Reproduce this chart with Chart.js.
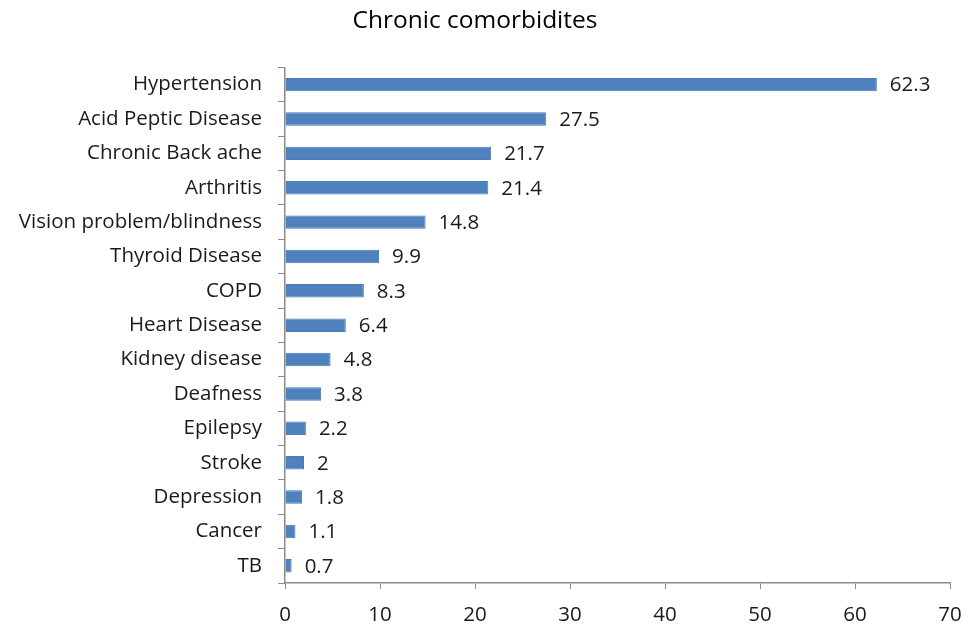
<!DOCTYPE html>
<html>
<head>
<meta charset="utf-8">
<script src="https://cdn.jsdelivr.net/npm/chart.js@4"></script>
<style>
  html, body { margin: 0; padding: 0; background: #fff; }
  #wrap { width: 978px; height: 628px; }
</style>
</head>
<body>
<div id="wrap"><canvas id="chart" width="978" height="628"></canvas></div>
<script>
const categories = [
  "Hypertension", "Acid Peptic Disease", "Chronic Back ache", "Arthritis",
  "Vision problem/blindness", "Thyroid Disease", "COPD", "Heart Disease",
  "Kidney disease", "Deafness", "Epilepsy", "Stroke", "Depression", "Cancer", "TB"
];
const values = [62.3, 27.5, 21.7, 21.4, 14.8, 9.9, 8.3, 6.4, 4.8, 3.8, 2.2, 2, 1.8, 1.1, 0.7];
const xTicks = [0, 10, 20, 30, 40, 50, 60, 70];

const FONT = "'Open Sans', 'Liberation Sans', sans-serif";
const axisColor = "#8c8c8c";

// value labels at the end of each bar
const valueLabels = {
  id: "valueLabels",
  afterDatasetsDraw(chart) {
    const ctx = chart.ctx;
    const meta = chart.getDatasetMeta(0);
    ctx.save();
    ctx.font = "20.5px " + FONT;
    ctx.fillStyle = "#1a1a1a";
    ctx.textAlign = "left";
    ctx.textBaseline = "middle";
    meta.data.forEach((bar, i) => {
      ctx.fillText(String(values[i]), bar.x + 13, bar.y + 1);
    });
    ctx.restore();
  }
};

new Chart(document.getElementById("chart"), {
  type: "bar",
  data: {
    labels: categories,
    datasets: [{
      data: values,
      backgroundColor: "#4f81bd",
      borderColor: "#4a7bb7",
      borderWidth: 1,
      barPercentage: 0.39,
      categoryPercentage: 1
    }]
  },
  options: {
    indexAxis: "y",
    responsive: false,
    animation: false,
    layout: { padding: { left: 0, right: 28, top: 0, bottom: 0 } },
    plugins: {
      legend: { display: false },
      tooltip: { enabled: false },
      title: {
        display: true,
        text: "Chronic comorbidites",
        color: "#000",
        font: { family: FONT, size: 24.5, weight: "normal" },
        padding: { top: 6, bottom: 32 }
      }
    },
    scales: {
      x: {
        min: 0,
        max: 70,
        afterBuildTicks(scale) {
          scale.ticks = xTicks.map(v => ({ value: v }));
        },
        afterFit(scale) { scale.height = 45; },
        grid: {
          drawOnChartArea: false,
          color: axisColor,
          tickLength: 6
        },
        border: { color: axisColor, width: 1.5 },
        ticks: {
          color: "#1a1a1a",
          font: { family: FONT, size: 20.5 },
          padding: 14
        }
      },
      y: {
        afterFit(scale) { scale.width = 285; },
        grid: {
          offset: true,
          drawOnChartArea: false,
          color: axisColor,
          tickLength: 7
        },
        border: { color: axisColor, width: 1.5 },
        ticks: {
          color: "#1a1a1a",
          font: { family: FONT, size: 20.5 },
          padding: 16
        }
      }
    }
  },
  plugins: [valueLabels]
});
</script>
</body>
</html>
